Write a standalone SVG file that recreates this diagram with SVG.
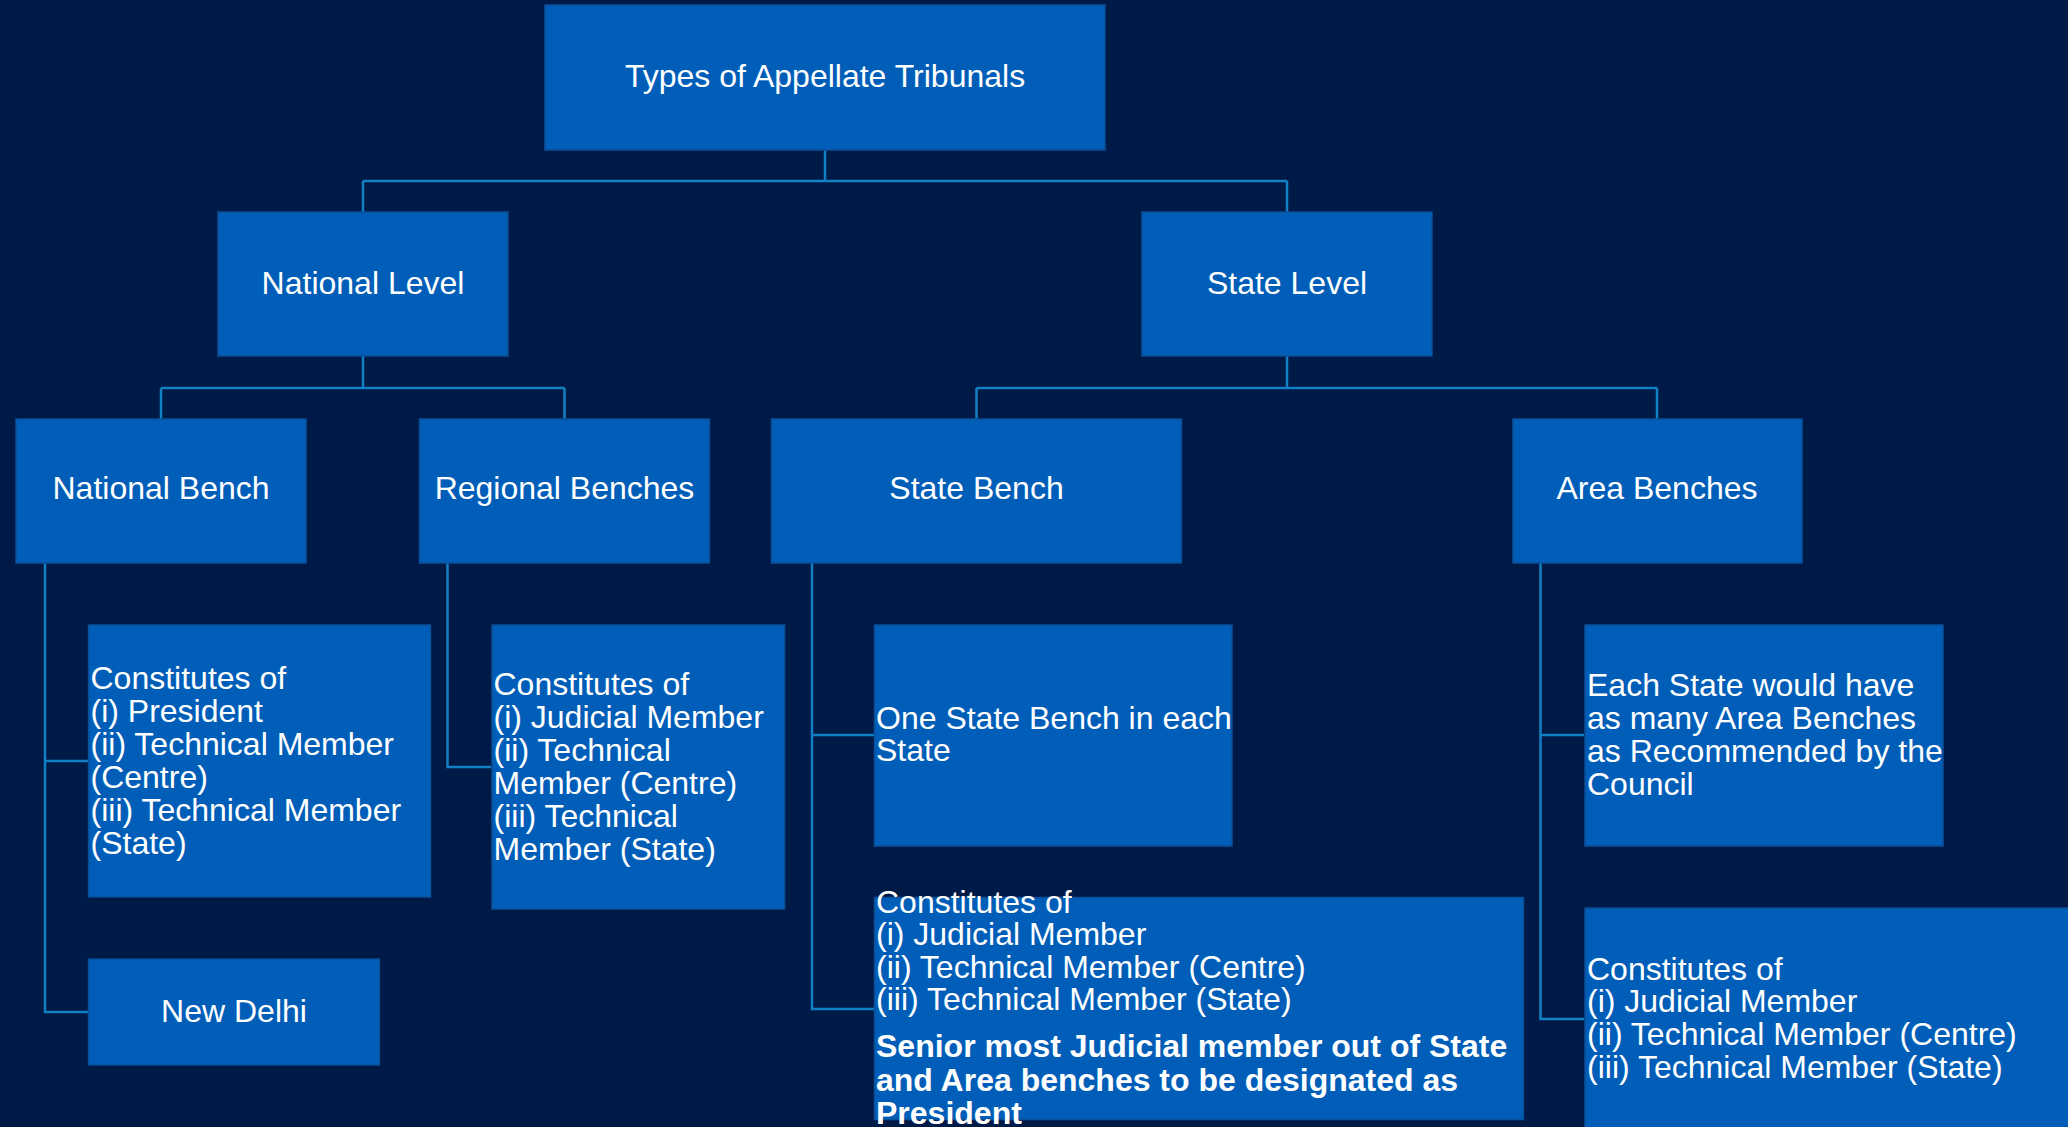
<svg xmlns="http://www.w3.org/2000/svg" width="2068" height="1127" viewBox="0 0 2068 1127">
<style>
.bg{fill:#001A48}
.box{fill:#005EB8;stroke:#0B4F96;stroke-width:1.5}
.t{font-family:"Liberation Sans",Arial,sans-serif;font-size:32px;fill:#FFFFFF}
.c{text-anchor:middle}
.b{font-weight:bold}
.con{fill:none;stroke:#1380C4;stroke-width:2.5}
</style>
<rect class="bg" x="0" y="0" width="2068" height="1127"/>
<g id="connectors">
<path class="con" d="M825,150 V181 M363,181 H1287 M363,181 V212 M1287,181 V212"/>
<path class="con" d="M363,356 V388 M161,388 H564.5 M161,388 V419 M564.5,388 V419"/>
<path class="con" d="M1287,356 V388 M976.5,388 H1657 M976.5,388 V419 M1657,388 V419"/>
<path class="con" d="M45,563 V1012 H88 M45,761 H88"/>
<path class="con" d="M447.5,563 V767 H491"/>
<path class="con" d="M812,563 V1009 H874.5 M812,735 H874.5"/>
<path class="con" d="M1540.5,563 V1019 H1584 M1540.5,735 H1584"/>
</g>
<g id="root">
<rect class="box" x="545" y="5" width="560" height="145"/>
<text class="t c" x="825" y="87">Types of Appellate Tribunals</text>
</g>
<g id="national-level">
<rect class="box" x="218" y="212" width="290" height="144"/>
<text class="t c" x="363" y="294">National Level</text>
</g>
<g id="state-level">
<rect class="box" x="1142" y="212" width="290" height="144"/>
<text class="t c" x="1287" y="294">State Level</text>
</g>
<g id="national-bench">
<rect class="box" x="16" y="419" width="290" height="144"/>
<text class="t c" x="161" y="499">National Bench</text>
</g>
<g id="regional-benches">
<rect class="box" x="419.5" y="419" width="290" height="144"/>
<text class="t c" x="564.5" y="499">Regional Benches</text>
</g>
<g id="state-bench">
<rect class="box" x="771.5" y="419" width="410" height="144"/>
<text class="t c" x="976.5" y="499">State Bench</text>
</g>
<g id="area-benches">
<rect class="box" x="1513" y="419" width="289" height="144"/>
<text class="t c" x="1657" y="499">Area Benches</text>
</g>
<g id="national-bench-members">
<rect class="box" x="88.5" y="625" width="342" height="272"/>
<text class="t" x="90.5" y="689">Constitutes of</text>
<text class="t" x="90.5" y="722">(i) President</text>
<text class="t" x="90.5" y="755">(ii) Technical Member</text>
<text class="t" x="90.5" y="788">(Centre)</text>
<text class="t" x="90.5" y="821">(iii) Technical Member</text>
<text class="t" x="90.5" y="854">(State)</text>
</g>
<g id="new-delhi">
<rect class="box" x="88.5" y="959" width="291" height="106"/>
<text class="t c" x="234" y="1022">New Delhi</text>
</g>
<g id="regional-benches-members">
<rect class="box" x="492" y="625" width="292.5" height="284"/>
<text class="t" x="493.5" y="694.5">Constitutes of</text>
<text class="t" x="493.5" y="727.5">(i) Judicial Member</text>
<text class="t" x="493.5" y="760.5">(ii) Technical</text>
<text class="t" x="493.5" y="793.5">Member (Centre)</text>
<text class="t" x="493.5" y="826.5">(iii) Technical</text>
<text class="t" x="493.5" y="859.5">Member (State)</text>
</g>
<g id="one-state-bench">
<rect class="box" x="874.5" y="625" width="357.5" height="221"/>
<text class="t" x="876" y="728.5">One State Bench in each</text>
<text class="t" x="876" y="761">State</text>
</g>
<g id="state-bench-members">
<rect class="box" x="874.5" y="897.5" width="649" height="222"/>
<text class="t" x="876" y="912.5">Constitutes of</text>
<text class="t" x="876" y="945">(i) Judicial Member</text>
<text class="t" x="876" y="977.5">(ii) Technical Member (Centre)</text>
<text class="t" x="876" y="1010">(iii) Technical Member (State)</text>
<text class="t b" x="876" y="1057">Senior most Judicial member out of State</text>
<text class="t b" x="876" y="1091">and Area benches to be designated as</text>
<text class="t b" x="876" y="1124">President</text>
</g>
<g id="area-benches-count">
<rect class="box" x="1585" y="625" width="358" height="221"/>
<text class="t" x="1587" y="695.5">Each State would have</text>
<text class="t" x="1587" y="728.5">as many Area Benches</text>
<text class="t" x="1587" y="761.5">as Recommended by the</text>
<text class="t" x="1587" y="794.5">Council</text>
</g>
<g id="area-benches-members">
<rect class="box" x="1585" y="908" width="490" height="230"/>
<text class="t" x="1587" y="979.5">Constitutes of</text>
<text class="t" x="1587" y="1012">(i) Judicial Member</text>
<text class="t" x="1587" y="1045">(ii) Technical Member (Centre)</text>
<text class="t" x="1587" y="1078">(iii) Technical Member (State)</text>
</g>
</svg>
